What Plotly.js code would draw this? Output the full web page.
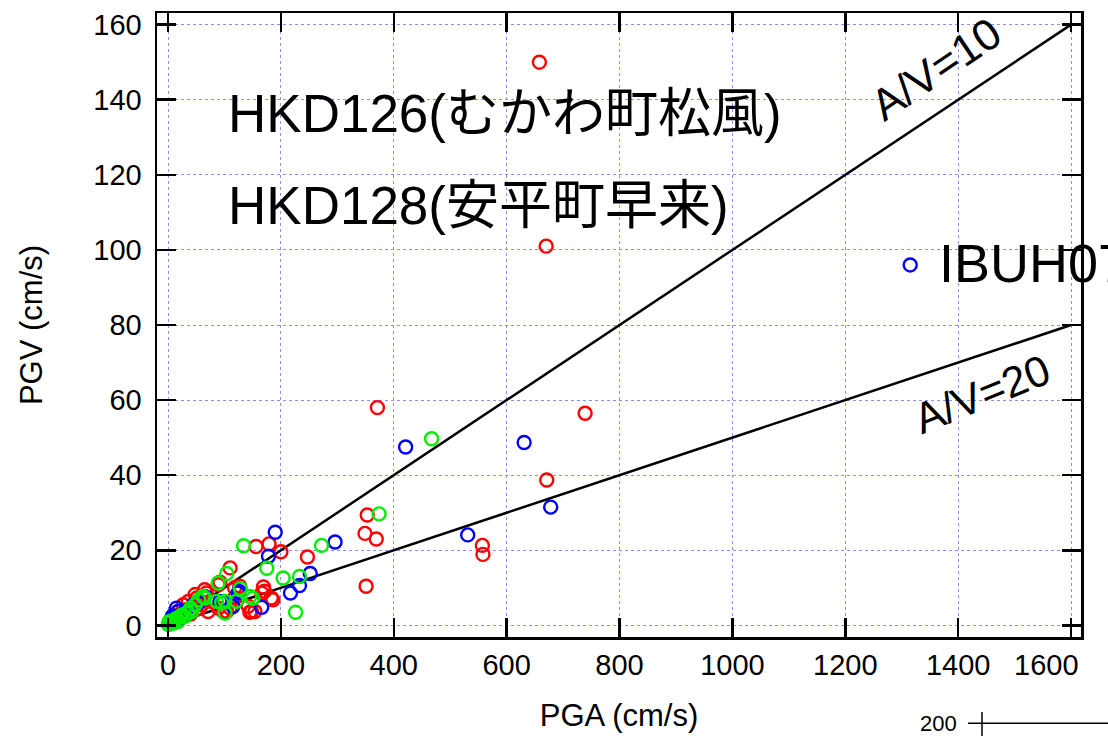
<!DOCTYPE html>
<html>
<head>
<meta charset="utf-8">
<script src="https://cdn.plot.ly/plotly-3.0.1.min.js"></script>
<style>html,body{margin:0;padding:0;background:#fff;}#chart{width:1108px;height:736px;}</style>
</head>
<body>
<div id="chart"></div>
<script>
// Series values (PGA cm/s, PGV cm/s)
const redPGA = [658,670,371,739,671,353,349,369,557,558,351,156,179,200,247,110,92,89,169,171,186,145,118,127,142,166,183,154,98,104,110,89,77,71,68,65,51,48,36,33,27,18,118,148,10,15,22,40,55,60,45,30,8,12];
const redPGV = [150,101,58,56.5,38.7,29.4,24.5,23,21.3,18.9,10.4,21,21.7,19.6,18.2,15.3,11.5,10.8,10.2,9.1,6.8,3.5,10,10.4,5.1,8.6,7.3,3.7,3.7,3.7,4.6,4.6,6.4,3.7,8.6,9.5,7.3,8.2,6.4,4.2,5.5,3.7,7.3,3.7,1.5,2.5,2,3,4.5,5.5,5,3,1,2.5];

const bluePGA = [1315,631,678,421,531,296,190,178,252,233,217,126,166,115,92,98,65,54,18,15,6.5,124,3,10,25,35,45,8,20,30];
const bluePGV = [96,48.7,31.5,47.5,24.1,22.2,24.8,18.4,13.8,10.6,8.6,9,4.8,5,6.4,6.4,7.7,6,3.7,4.6,1.9,8.6,0.8,1.5,3,4,5.5,2.5,2,3.5];

const greenPGA = [467,374,272,134,175,204,233,226,104,89,128,150,121,101,101,86,65,62,54,95,145,42,30,12,0.5,5,8,15,20,25,35,18,3,2,10,40,48];
const greenPGV = [49.7,29.7,21.3,21.2,15.2,12.6,13,3.5,13.8,11.3,9.8,7.2,6.4,3.3,6.4,6.4,7.3,7.7,6.8,6,7.7,3.7,2.4,1.5,0.2,0.8,1.2,1.8,2.2,2.8,3.5,1,0.5,1,0.6,4.5,5.5];

const ratioLines = [10, 20];      // A/V ratios
const lineEndPGA = 1600;
const xTicks = [0,200,400,600,800,1000,1200,1400,1600];
const yTicks = [0,20,40,60,80,100,120,140,160];

const labels = ["HKD126(むかわ町松風)", "HKD128(安平町早来)", "IBUH07", "A/V=10", "A/V=20", "200"];

const mk = (c) => ({symbol:'circle-open', size:13, color:c, line:{width:2.4, color:c}});
const traces = [];
ratioLines.forEach(r => {
  traces.push({x:[0, lineEndPGA], y:[0, lineEndPGA/r], mode:'lines', line:{color:'#000', width:2.5}, hoverinfo:'skip', showlegend:false});
});
traces.push({x:redPGA, y:redPGV, mode:'markers', marker:mk('#ff0000'), showlegend:false});
traces.push({x:bluePGA, y:bluePGV, mode:'markers', marker:mk('#0000ff'), showlegend:false});
traces.push({x:greenPGA, y:greenPGV, mode:'markers', marker:mk('#00ee00'), showlegend:false});

const tickFont = {family:'"Liberation Sans", Arial, sans-serif', size:29, color:'#000'};
const titleFont = {family:'"Liberation Sans", Arial, sans-serif', size:31, color:'#000'};
const annFont = (s) => ({family:'"Liberation Sans", "Noto Sans CJK JP", sans-serif', size:s, color:'#000'});
const axisCommon = {
  showline:true, linecolor:'#000', linewidth:2.5, mirror:'ticks',
  ticks:'inside', ticklen:19, tickwidth:2.5, tickcolor:'#000',
  showgrid:true, gridcolor:'#8f8fef', gridwidth:1, griddash:'3px,3px',
  zeroline:false, tickfont:tickFont
};
// the last x label sits left of its tick in the reference: drawn as an annotation instead
const lastX = xTicks[xTicks.length - 1];
const xTickText = xTicks.map((v) => v === lastX ? '' : String(v));

const px = (p) => (p - 157) / 924;
const py = (p) => (636.7 - p) / 624.2;

const layout = {
  width:1108, height:736,
  margin:{l:157, r:27, t:12.5, b:99.3, autoexpand:false},
  paper_bgcolor:'#fff', plot_bgcolor:'#fff',
  xaxis: Object.assign({}, axisCommon, {
    range:[-19.5, 1617.6], tickvals:xTicks, ticktext:xTickText,
    ticklabelstandoff:1,
    title:{text:'PGA (cm/s)', font:titleFont, standoff:24}
  }),
  yaxis: Object.assign({}, axisCommon, {
    range:[-3.1, 163.1], tickvals:yTicks, ticktext:yTicks.map(String),
    ticklabelstandoff:7,
    title:{text:'PGV (cm/s)', font:titleFont, standoff:42}
  }),
  annotations:[
    {xref:'paper', yref:'paper', x:px(226), y:py(113), xanchor:'left', yanchor:'middle', text:labels[0], showarrow:false, font:annFont(53)},
    {xref:'paper', yref:'paper', x:px(226), y:py(205), xanchor:'left', yanchor:'middle', text:labels[1], showarrow:false, font:annFont(53)},
    {xref:'paper', yref:'paper', x:px(937), y:py(263), xanchor:'left', yanchor:'middle', text:labels[2], showarrow:false, font:annFont(54)},
    {xref:'paper', yref:'paper', x:px(936), y:py(68), xanchor:'center', yanchor:'middle', text:labels[3], showarrow:false, textangle:-34, font:annFont(44)},
    {xref:'paper', yref:'paper', x:px(982), y:py(394), xanchor:'center', yanchor:'middle', text:labels[4], showarrow:false, textangle:-22, font:annFont(43)},
    {xref:'paper', yref:'paper', x:px(938), y:py(723), xanchor:'center', yanchor:'middle', text:labels[5], showarrow:false, font:annFont(22)},
    {xref:'paper', yref:'paper', x:px(1046), y:py(665), xanchor:'center', yanchor:'middle', text:String(lastX), showarrow:false, font:tickFont}
  ],
  shapes:[
    {type:'line', xref:'paper', yref:'paper', x0:px(968), x1:px(1110), y0:py(723), y1:py(723), line:{color:'#000', width:1.5}},
    {type:'line', xref:'paper', yref:'paper', x0:px(982), x1:px(982), y0:py(711.7), y1:py(740), line:{color:'#000', width:1.5}}
  ]
};

Plotly.newPlot('chart', traces, layout, {staticPlot:true, displayModeBar:false});
</script>
</body>
</html>
